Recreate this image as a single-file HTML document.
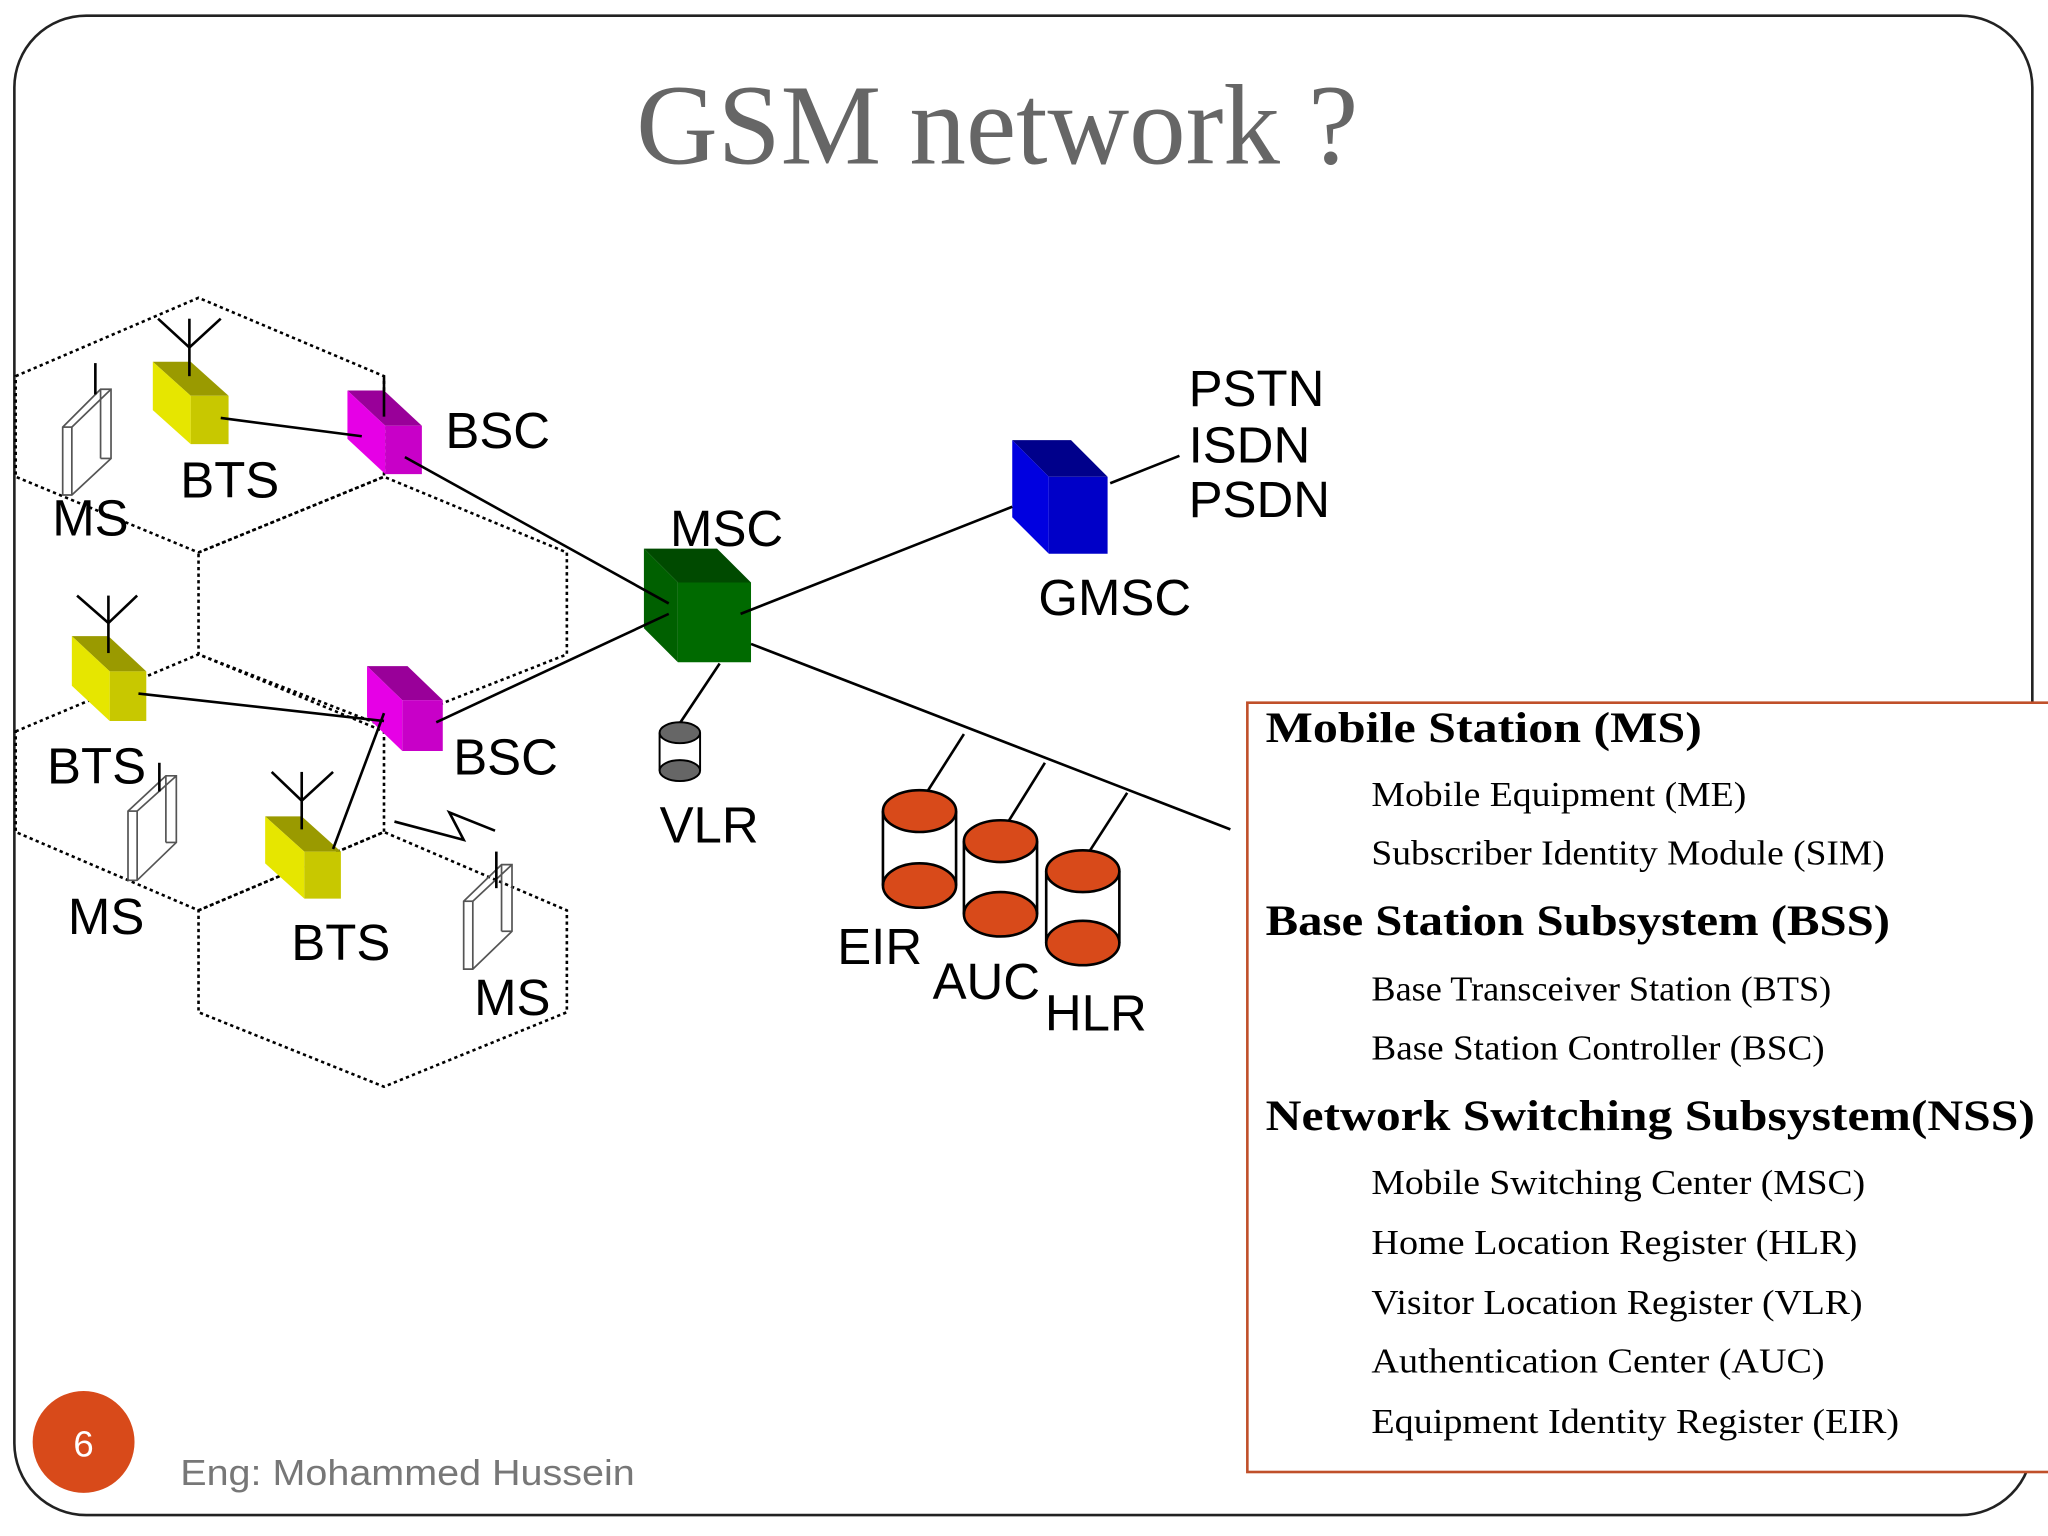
<!DOCTYPE html>
<html><head><meta charset="utf-8"><style>html,body{margin:0;padding:0;background:#fff;}svg{display:block}</style></head>
<body>
<svg width="2048" height="1536" viewBox="0 0 1568 1176" preserveAspectRatio="none" xmlns="http://www.w3.org/2000/svg">
<rect x="0" y="0" width="1568" height="1176" fill="#fff"/>
<rect x="11" y="12" width="1545" height="1148" rx="55" ry="55" fill="#fff" stroke="#222" stroke-width="2"/>
<text x="487" y="125" font-family="Liberation Serif, serif" font-size="88" fill="#666" textLength="553" lengthAdjust="spacingAndGlyphs">GSM network ?</text>

<g fill="none" stroke="#000" stroke-width="2" stroke-dasharray="2.5,2.5">
<polygon points="12,288 152,228 294,288 294,365 152,423 12,365"/>
<polygon points="152,423 294,365 434,423 434,501 294,556 152,501"/>
<polygon points="12,560 152,501 294,560 294,637 152,697 12,637"/>
<polygon points="152,697 294,637 434,697 434,775 294,832 152,775"/>
</g>

<!-- MS phones -->
<g fill="none" stroke="#555" stroke-width="1.3">
<polygon points="48,327 77,298 85,298 85,351 55,379 48,379"/><line x1="55" y1="327" x2="55" y2="379"/><line x1="48" y1="327" x2="55" y2="327"/><line x1="55" y1="327" x2="85" y2="298"/><line x1="77" y1="298" x2="77" y2="351"/><line x1="77" y1="351" x2="85" y2="351"/>
<polygon points="98,621 127,594 135,594 135,645 105,674 98,674"/><line x1="105" y1="621" x2="105" y2="674"/><line x1="98" y1="621" x2="105" y2="621"/><line x1="105" y1="621" x2="135" y2="594"/><line x1="127" y1="594" x2="127" y2="645"/><line x1="127" y1="645" x2="135" y2="645"/>
<polygon points="355,690 384,662 392,662 392,713 362,742 355,742"/><line x1="362" y1="690" x2="362" y2="742"/><line x1="355" y1="690" x2="362" y2="690"/><line x1="362" y1="690" x2="392" y2="662"/><line x1="384" y1="662" x2="384" y2="713"/><line x1="384" y1="713" x2="392" y2="713"/>
</g>
<g stroke="#000" stroke-width="2">
<line x1="73" y1="278" x2="73" y2="302"/>
<line x1="122" y1="584" x2="122" y2="606"/>
<line x1="380" y1="652" x2="380" y2="680"/>
</g>

<!-- BTS1 -->
<polygon points="117,277 146,277 175,303 146,303" fill="#9a9a00"/>
<polygon points="117,277 146,303 146,340 117,314" fill="#e6e600"/>
<polygon points="146,303 175,303 175,340 146,340" fill="#c8c800"/>
<!-- BSC1 -->
<polygon points="266,299 294,299 323,326 295,326" fill="#990099"/>
<polygon points="266,299 295,326 295,363 266,336" fill="#e600e6"/>
<polygon points="295,326 323,326 323,363 295,363" fill="#c800c8"/>
<!-- MSC -->
<polygon points="493,420 549,420 575,446 519,446" fill="#004a00"/>
<polygon points="493,420 519,446 519,507 493,481" fill="#006000"/>
<polygon points="519,446 575,446 575,507 519,507" fill="#006a00"/>
<!-- BTS2 -->
<polygon points="55,487 83,487 112,514 84,514" fill="#9a9a00"/>
<polygon points="55,487 84,514 84,552 55,525" fill="#e6e600"/>
<polygon points="84,514 112,514 112,552 84,552" fill="#c8c800"/>
<!-- BSC2 -->
<polygon points="281,510 312,510 339,536 308,536" fill="#990099"/>
<polygon points="281,510 308,536 308,575 281,549" fill="#e600e6"/>
<polygon points="308,536 339,536 339,575 308,575" fill="#c800c8"/>
<!-- BTS3 -->
<polygon points="203,625 231,625 261,652 233,652" fill="#9a9a00"/>
<polygon points="203,625 233,652 233,688 203,661" fill="#e6e600"/>
<polygon points="233,652 261,652 261,688 233,688" fill="#c8c800"/>
<!-- GMSC -->
<polygon points="775,337 820,337 848,365 803,365" fill="#00008b"/>
<polygon points="775,337 803,365 803,424 775,396" fill="#0000e0"/>
<polygon points="803,365 848,365 848,424 803,424" fill="#0000c8"/>

<g stroke="#000" stroke-width="2" fill="none">
<!-- antennas -->
<line x1="145" y1="244" x2="145" y2="288"/><polyline points="121,244 145,266 169,244"/>
<line x1="294" y1="289" x2="294" y2="319"/>
<line x1="83" y1="456" x2="83" y2="500"/><polyline points="59,456 83,477 105,456"/>
<line x1="231" y1="591" x2="231" y2="635"/><polyline points="208,591 231,613 255,591"/>
<!-- links -->
<line x1="169" y1="320" x2="277" y2="334"/>
<line x1="310" y1="350" x2="512" y2="462"/>
<line x1="334" y1="553" x2="512" y2="470"/>
<line x1="567" y1="470" x2="775" y2="388"/>
<line x1="850" y1="370" x2="903" y2="349"/>
<line x1="551" y1="508" x2="521" y2="553"/>
<line x1="575" y1="493" x2="942" y2="635"/>
<line x1="106" y1="531" x2="294" y2="552"/>
<line x1="255" y1="650" x2="294" y2="546"/>
<polyline points="302,629 355,643 344,622 379,636"/>
<line x1="710" y1="606" x2="738" y2="562"/>
<line x1="772" y1="629" x2="800" y2="584"/>
<line x1="834" y1="652" x2="863" y2="607"/>
</g>

<!-- VLR -->
<g stroke="#000" stroke-width="1.5">
<rect x="505" y="561" width="31" height="29" fill="#fff" stroke="none"/>
<ellipse cx="520.5" cy="590" rx="15.5" ry="8" fill="#666"/>
<line x1="505" y1="561" x2="505" y2="590"/><line x1="536" y1="561" x2="536" y2="590"/>
<ellipse cx="520.5" cy="561" rx="15.5" ry="8" fill="#666"/>
</g>
<!-- databases -->
<g stroke="#000" stroke-width="2">
<rect x="676" y="621" width="56" height="57" fill="#fff" stroke="none"/>
<ellipse cx="704" cy="678" rx="28" ry="17" fill="#d84a1a"/>
<line x1="676" y1="621" x2="676" y2="678"/><line x1="732" y1="621" x2="732" y2="678"/>
<ellipse cx="704" cy="621" rx="28" ry="16" fill="#d84a1a"/>
<rect x="738" y="644" width="56" height="56" fill="#fff" stroke="none"/>
<ellipse cx="766" cy="700" rx="28" ry="17" fill="#d84a1a"/>
<line x1="738" y1="644" x2="738" y2="700"/><line x1="794" y1="644" x2="794" y2="700"/>
<ellipse cx="766" cy="644" rx="28" ry="16" fill="#d84a1a"/>
<rect x="801" y="667" width="56" height="55" fill="#fff" stroke="none"/>
<ellipse cx="829" cy="722" rx="28" ry="17" fill="#d84a1a"/>
<line x1="801" y1="667" x2="801" y2="722"/><line x1="857" y1="667" x2="857" y2="722"/>
<ellipse cx="829" cy="667" rx="28" ry="16" fill="#d84a1a"/>
</g>

<g font-family="Liberation Sans, sans-serif" font-size="39" fill="#000">
<text x="341" y="343">BSC</text>
<text x="138" y="381">BTS</text>
<text x="40" y="410">MS</text>
<text x="513" y="418">MSC</text>
<text x="910" y="311">PSTN</text>
<text x="910" y="354">ISDN</text>
<text x="910" y="396">PSDN</text>
<text x="795" y="471">GMSC</text>
<text x="36" y="600">BTS</text>
<text x="347" y="593">BSC</text>
<text x="505" y="645">VLR</text>
<text x="52" y="715">MS</text>
<text x="223" y="735">BTS</text>
<text x="363" y="777">MS</text>
<text x="641" y="738">EIR</text>
<text x="714" y="765">AUC</text>
<text x="800" y="789">HLR</text>
</g>

<!-- legend -->
<rect x="955" y="538" width="640" height="589" fill="#fff" stroke="#c0502a" stroke-width="2"/>
<g font-family="Liberation Serif, serif" fill="#000">
<text x="969" y="568" font-size="33" font-weight="bold" textLength="334" lengthAdjust="spacingAndGlyphs">Mobile Station (MS)</text>
<text x="1050" y="617" font-size="27" textLength="287" lengthAdjust="spacingAndGlyphs">Mobile Equipment (ME)</text>
<text x="1050" y="662" font-size="27" textLength="393" lengthAdjust="spacingAndGlyphs">Subscriber Identity Module (SIM)</text>
<text x="969" y="716" font-size="33" font-weight="bold" textLength="478" lengthAdjust="spacingAndGlyphs">Base Station Subsystem (BSS)</text>
<text x="1050" y="766" font-size="27" textLength="352" lengthAdjust="spacingAndGlyphs">Base Transceiver Station (BTS)</text>
<text x="1050" y="811" font-size="27" textLength="347" lengthAdjust="spacingAndGlyphs">Base Station Controller (BSC)</text>
<text x="969" y="865" font-size="33" font-weight="bold" textLength="589" lengthAdjust="spacingAndGlyphs">Network Switching Subsystem(NSS)</text>
<text x="1050" y="914" font-size="27" textLength="378" lengthAdjust="spacingAndGlyphs">Mobile Switching Center (MSC)</text>
<text x="1050" y="960" font-size="27" textLength="372" lengthAdjust="spacingAndGlyphs">Home Location Register (HLR)</text>
<text x="1050" y="1006" font-size="27" textLength="376" lengthAdjust="spacingAndGlyphs">Visitor Location Register (VLR)</text>
<text x="1050" y="1051" font-size="27" textLength="347" lengthAdjust="spacingAndGlyphs">Authentication Center (AUC)</text>
<text x="1050" y="1097" font-size="27" textLength="404" lengthAdjust="spacingAndGlyphs">Equipment Identity Register (EIR)</text>
</g>

<circle cx="64" cy="1104" r="39" fill="#d84a1a"/>
<text x="64" y="1115" font-family="Liberation Sans, sans-serif" font-size="28" fill="#fff" text-anchor="middle">6</text>
<text x="138" y="1137" font-family="Liberation Sans, sans-serif" font-size="28" fill="#777" textLength="348" lengthAdjust="spacingAndGlyphs">Eng: Mohammed Hussein</text>
</svg>
</body></html>
